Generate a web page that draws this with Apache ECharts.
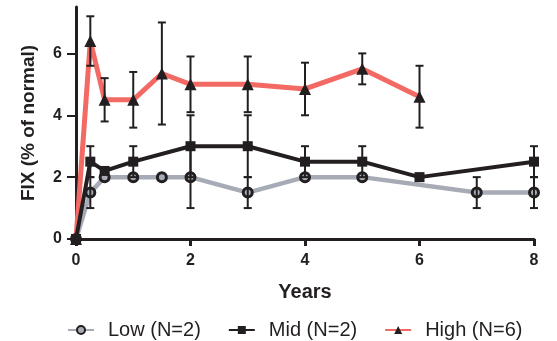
<!DOCTYPE html>
<html>
<head>
<meta charset="utf-8">
<script src="https://cdn.jsdelivr.net/npm/echarts@6/dist/echarts.min.js"></script>
<style>
  html, body { margin: 0; padding: 0; background: #fff; }
  #chart { width: 557px; height: 341px; }
</style>
</head>
<body>
<div id="chart"></div>
<script>
// years and values
const lowX  = [0, 0.25, 0.5, 1, 1.5, 2, 3, 4, 5, 7, 8];
const lowY  = [0, 1.5, 2, 2, 2, 2, 1.5, 2, 2, 1.5, 1.5];
const lowSd = [0, 0.5, 0, 0, 0, 1, 0.5, 0, 0, 0.5, 0.5];

const midX  = [0, 0.25, 0.5, 1, 2, 3, 4, 5, 6, 8];
const midY  = [0, 2.5, 2.2, 2.5, 3, 3, 2.5, 2.5, 2, 2.5];
const midSd = [0, 0.5, 0, 0.5, 1, 1, 0.5, 0.5, 0, 0.5];

const highX  = [0, 0.25, 0.5, 1, 1.5, 2, 3, 4, 5, 6];
const highY  = [0, 6.4, 4.5, 4.5, 5.35, 5, 5, 4.85, 5.5, 4.6];
const highSd = [0, 0.8, 0.7, 0.9, 1.65, 0.9, 0.9, 0.85, 0.5, 1.0];

const yTicks = [0, 2, 4, 6];
const xTicks = [0, 2, 4, 6, 8];

const BLACK = '#231f20';
const GRAY = '#a7abb5';
const RED = '#f26a63';
const FONT = '"Liberation Sans", Arial, sans-serif';

function pts(xs, ys) {
  return xs.map((x, i) => [x, ys[i]]);
}
function errs(xs, ys, sd) {
  const out = [];
  xs.forEach((x, i) => {
    if (sd[i] > 0) out.push([x, ys[i] - sd[i], ys[i] + sd[i]]);
  });
  return out;
}

function errorBar(params, api) {
  const x = api.value(0);
  const lo = api.coord([x, api.value(1)]);
  const hi = api.coord([x, api.value(2)]);
  const cap = 4;
  const style = { stroke: BLACK, lineWidth: 2 };
  return {
    type: 'group',
    children: [
      { type: 'line', shape: { x1: lo[0], y1: lo[1], x2: hi[0], y2: hi[1] }, style: style },
      { type: 'line', shape: { x1: lo[0] - cap, y1: lo[1], x2: lo[0] + cap, y2: lo[1] }, style: style },
      { type: 'line', shape: { x1: hi[0] - cap, y1: hi[1], x2: hi[0] + cap, y2: hi[1] }, style: style }
    ]
  };
}

const chart = echarts.init(document.getElementById('chart'));

const option = {
  animation: false,
  textStyle: { fontFamily: FONT },
  grid: { left: 76, right: 23, top: 7, bottom: 102 },
  legend: {
    data: ['Low (N=2)', 'Mid (N=2)', 'High (N=6)'],
    left: 62,
    top: 315,
    itemWidth: 26,
    itemHeight: 10,
    itemGap: 27,
    textStyle: { fontSize: 20, color: BLACK, fontFamily: FONT, padding: [0, 0, 0, 9] }
  },
  xAxis: {
    type: 'value',
    min: 0,
    max: 8,
    interval: 2,
    name: 'Years',
    nameLocation: 'middle',
    nameGap: 43,
    nameTextStyle: { fontSize: 20, fontWeight: 'bold', color: BLACK },
    splitLine: { show: false },
    axisLine: { lineStyle: { color: BLACK, width: 3 } },
    axisTick: { length: 7, lineStyle: { color: BLACK, width: 3 }, customValues: xTicks },
    axisLabel: { fontSize: 16, fontWeight: 'bold', color: BLACK, margin: 14, customValues: xTicks }
  },
  yAxis: {
    type: 'value',
    min: 0,
    max: 7.5,
    interval: 2,
    name: 'FIX (% of normal)',
    nameLocation: 'middle',
    nameGap: 38,
    nameTextStyle: { fontSize: 19, fontWeight: 'bold', color: BLACK },
    splitLine: { show: false },
    axisLine: { lineStyle: { color: BLACK, width: 3 } },
    axisTick: { length: 9, lineStyle: { color: BLACK, width: 2 }, customValues: yTicks },
    axisLabel: { fontSize: 16, fontWeight: 'bold', color: BLACK, margin: 14, customValues: yTicks }
  },
  series: [
    {
      name: 'Low (N=2)',
      type: 'line',
      data: pts(lowX, lowY),
      symbol: 'circle',
      symbolSize: 9,
      z: 3,
      lineStyle: { color: GRAY, width: 4.5 },
      itemStyle: { color: GRAY, borderColor: BLACK, borderWidth: 3 }
    },
    {
      name: 'Mid (N=2)',
      type: 'line',
      data: pts(midX, midY),
      symbol: 'rect',
      symbolSize: 10,
      z: 4,
      lineStyle: { color: BLACK, width: 4 },
      itemStyle: { color: BLACK }
    },
    {
      name: 'High (N=6)',
      type: 'line',
      data: pts(highX, highY),
      symbol: 'triangle',
      symbolSize: 12,
      z: 2,
      lineStyle: { color: RED, width: 5 },
      itemStyle: { color: BLACK }
    },
    { name: 'lowErr', type: 'custom', renderItem: errorBar, data: errs(lowX, lowY, lowSd), z: 5 },
    { name: 'midErr', type: 'custom', renderItem: errorBar, data: errs(midX, midY, midSd), z: 5 },
    { name: 'highErr', type: 'custom', renderItem: errorBar, data: errs(highX, highY, highSd), z: 5 }
  ]
};

chart.setOption(option);
</script>
</body>
</html>
